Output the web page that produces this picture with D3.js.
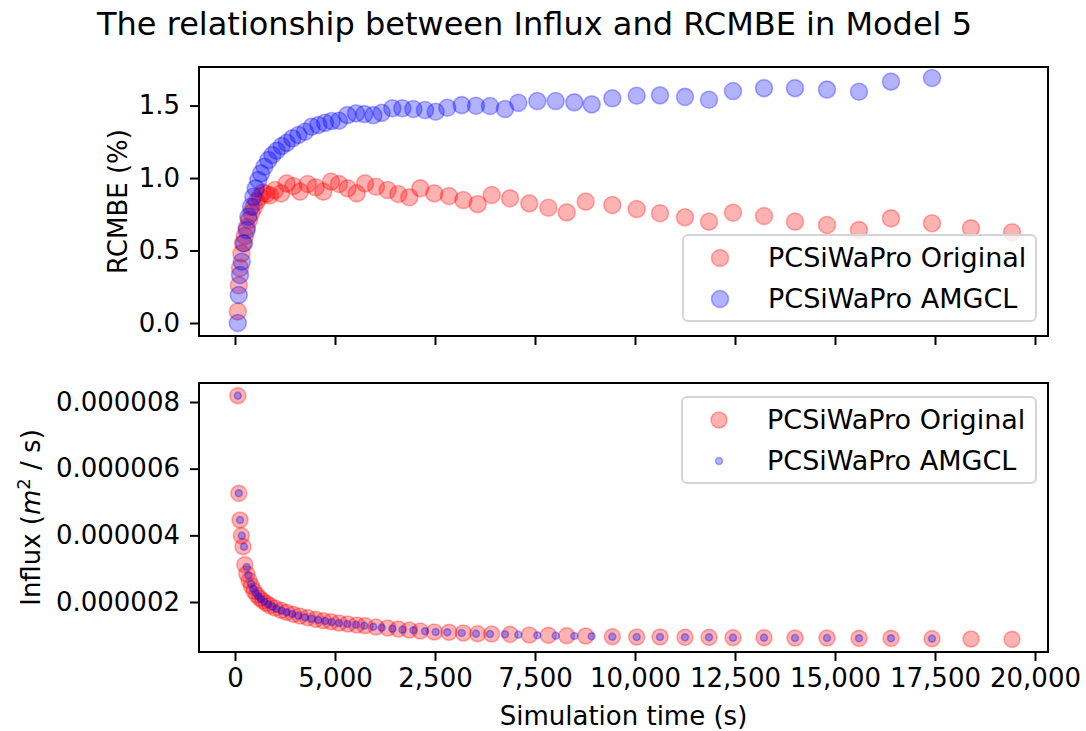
<!DOCTYPE html>
<html>
<head>
<meta charset="utf-8">
<script src="https://cdnjs.cloudflare.com/ajax/libs/d3/7.8.5/d3.min.js"></script>
<style>
  body { margin: 0; background: #fff; }
  svg { font-family: "DejaVu Sans", sans-serif; }
</style>
</head>
<body>
<div id="chart"></div>
<script>
// PCSiWaPro Original: simulation time (s), RCMBE (%), influx (x 1e-6 m2/s)
var timeOriginal = [70, 95, 125, 160, 200, 245, 295, 350, 410, 475, 545, 620, 700, 785, 875,
  1000, 1150, 1292, 1458, 1625, 1817, 2017, 2208, 2400, 2600, 2817, 3042, 3250, 3525, 3817,
  4083, 4358, 4633, 4983, 5350, 5708, 6067, 6417, 6875, 7358, 7833, 8292, 8767, 9433, 10042,
  10625, 11250, 11850, 12450, 13225, 14000, 14800, 15600, 16400, 17425, 18400, 19425];
var rcmbeOriginal = [0.08, 0.26, 0.38, 0.48, 0.55, 0.60, 0.66, 0.71, 0.76, 0.80, 0.84, 0.87, 0.90, 0.89, 0.88,
  0.917, 0.894, 0.963, 0.945, 0.906, 0.959, 0.936, 0.906, 0.975, 0.959, 0.929, 0.894, 0.963, 0.94, 0.917,
  0.89, 0.867, 0.929, 0.894, 0.876, 0.848, 0.82, 0.883, 0.86, 0.825, 0.795, 0.763, 0.837, 0.814, 0.786,
  0.757, 0.729, 0.699, 0.761, 0.738, 0.699, 0.676, 0.641, 0.722, 0.688, 0.653, 0.626];
var influxOriginal = [8.19, 5.26, 4.46, 3.99, 3.66, 3.12, 2.84, 2.65, 2.48, 2.33, 2.21, 2.11, 2.03, 1.96, 1.89,
  1.82, 1.75, 1.69, 1.63, 1.58, 1.53, 1.48, 1.44, 1.41, 1.37, 1.34, 1.31, 1.29, 1.25, 1.22,
  1.19, 1.16, 1.13, 1.10, 1.09, 1.07, 1.05, 1.04, 1.03, 1.01, 1.00, 0.99, 0.98, 0.96, 0.95,
  0.95, 0.94, 0.94, 0.93, 0.93, 0.92, 0.92, 0.91, 0.91, 0.90, 0.89, 0.88];

// PCSiWaPro AMGCL
var timeAmgcl = [70, 95, 125, 170, 225, 292, 333, 400, 458, 517, 583, 650, 733, 833, 933,
  1042, 1167, 1292, 1433, 1583, 1750, 1917, 2083, 2250, 2417, 2600, 2808, 3025, 3233, 3458,
  3667, 3933, 4183, 4458, 4750, 5017, 5308, 5667, 6025, 6375, 6750, 7083, 7558, 8017, 8483,
  8917, 9433, 10042, 10625, 11250, 11850, 12450, 13225, 14000, 14800, 15600, 16400, 17425];
var rcmbeAmgcl = [0.00, 0.193, 0.331, 0.423, 0.55, 0.641, 0.733, 0.802, 0.871, 0.929, 0.986, 1.032, 1.078, 1.124, 1.159,
  1.188, 1.221, 1.243, 1.274, 1.297, 1.319, 1.354, 1.366, 1.381, 1.393, 1.395, 1.434, 1.446, 1.441, 1.434,
  1.45, 1.481, 1.481, 1.476, 1.469, 1.457, 1.485, 1.503, 1.499, 1.497, 1.476, 1.519, 1.531, 1.531, 1.522,
  1.508, 1.55, 1.568, 1.57, 1.56, 1.54, 1.60, 1.62, 1.62, 1.61, 1.595, 1.665, 1.69];
var influxAmgcl = [8.19, 5.26, 4.46, 3.99, 3.66, 3.05, 2.80, 2.55, 2.40, 2.28, 2.17, 2.09, 2.01, 1.93, 1.86,
  1.80, 1.74, 1.69, 1.64, 1.59, 1.54, 1.50, 1.46, 1.43, 1.40, 1.37, 1.34, 1.32, 1.29, 1.26,
  1.23, 1.20, 1.17, 1.15, 1.12, 1.10, 1.09, 1.07, 1.05, 1.04, 1.03, 1.02, 1.00, 0.99, 0.98,
  0.97, 0.96, 0.95, 0.95, 0.94, 0.94, 0.93, 0.93, 0.92, 0.92, 0.91, 0.91, 0.90];

// ticks (the second x label really reads 5,000 in the source figure)
var xTicks = [0, 2500, 5000, 7500, 10000, 12500, 15000, 17500, 20000];
var xTickLabels = ["0", "5,000", "2,500", "7,500", "10,000", "12,500", "15,000", "17,500", "20,000"];
var rcmbeTicks = [0, 0.5, 1.0, 1.5];
var rcmbeTickLabels = ["0.0", "0.5", "1.0", "1.5"];
var influxTicks = [2, 4, 6, 8];
var influxTickLabels = ["0.000002", "0.000004", "0.000006", "0.000008"];

var seriesNames = ["PCSiWaPro Original", "PCSiWaPro AMGCL"];
var seriesColors = ["#ff0000", "#0000ff"];

var W = 1086, H = 731;
var left = 199, right = 1048;
var fs = 26;

var svg = d3.select("#chart").append("svg")
    .attr("width", W).attr("height", H);

var x = d3.scaleLinear().domain([-900, 20325]).range([left, right]);
var yTop = d3.scaleLinear().domain([-0.0897, 1.766]).range([336, 67]);
var yBot = d3.scaleLinear().domain([0.5, 8.57]).range([652, 383]);

function zip(t, v) {
    return t.map(function (d, i) { return { t: d, v: v[i] }; });
}

function drawAxes(y, yTicks, yLabels, showX) {
    var r = y.range();
    var g = svg.append("g");

    var xa = d3.axisBottom(x).tickValues(xTicks).tickSize(9).tickPadding(8)
        .tickFormat(function (d, i) { return showX ? xTickLabels[i] : ""; });
    g.append("g").attr("transform", "translate(0," + r[0] + ")").call(xa);

    var ya = d3.axisLeft(y).tickValues(yTicks).tickSize(9).tickPadding(10)
        .tickFormat(function (d, i) { return yLabels[i]; });
    g.append("g").attr("transform", "translate(" + left + ",0)").call(ya);

    g.selectAll(".domain").remove();
    g.selectAll(".tick line").attr("stroke", "#000").attr("stroke-width", 2);
    g.selectAll(".tick text").attr("fill", "#000").style("font-size", fs + "px")
        .style("font-family", "DejaVu Sans, sans-serif");

    g.append("rect")
        .attr("x", left).attr("y", r[1])
        .attr("width", right - left).attr("height", r[0] - r[1])
        .attr("fill", "none").attr("stroke", "#000").attr("stroke-width", 2);
}

function drawPoints(data, y, color, radius) {
    svg.append("g").selectAll("circle")
        .data(data)
        .enter()
        .append("circle")
        .attr("cx", function (d) { return x(d.t); })
        .attr("cy", function (d) { return y(d.v); })
        .attr("r", radius)
        .attr("fill", color).attr("fill-opacity", 0.3)
        .attr("stroke", color).attr("stroke-opacity", 0.3).attr("stroke-width", 1.6);
}

function drawLegend(x0, y0, w, h, radii) {
    var g = svg.append("g");
    g.append("rect")
        .attr("x", x0).attr("y", y0).attr("width", w).attr("height", h)
        .attr("rx", 5).attr("fill", "#fff").attr("fill-opacity", 0.8)
        .attr("stroke", "#d5d5d5").attr("stroke-width", 2);
    seriesNames.forEach(function (name, i) {
        var cy = y0 + 23 + i * 41;
        g.append("circle")
            .attr("cx", x0 + 37).attr("cy", cy).attr("r", radii[i])
            .attr("fill", seriesColors[i]).attr("fill-opacity", 0.3)
            .attr("stroke", seriesColors[i]).attr("stroke-opacity", 0.3).attr("stroke-width", 1.6);
        g.append("text")
            .attr("x", x0 + 85).attr("y", cy + 9)
            .style("font-size", "27px")
            .text(name);
    });
}

// top panel: RCMBE
drawAxes(yTop, rcmbeTicks, rcmbeTickLabels, false);
drawPoints(zip(timeOriginal, rcmbeOriginal), yTop, seriesColors[0], 8.5);
drawPoints(zip(timeAmgcl, rcmbeAmgcl), yTop, seriesColors[1], 8.5);
drawLegend(683, 235, 353, 86, [8.5, 8.5]);

// bottom panel: influx
drawAxes(yBot, influxTicks, influxTickLabels, true);
drawPoints(zip(timeOriginal, influxOriginal), yBot, seriesColors[0], 8);
drawPoints(zip(timeAmgcl, influxAmgcl), yBot, seriesColors[1], 3.5);
drawLegend(682, 397, 354, 86, [8, 3.5]);

// titles and labels
svg.append("text")
    .attr("x", 97).attr("y", 35)
    .style("font-size", "32px")
    .text("The relationship between Influx and RCMBE in Model 5");

svg.append("text")
    .attr("x", (left + right) / 2).attr("y", 725)
    .attr("text-anchor", "middle")
    .style("font-size", fs + "px")
    .text("Simulation time (s)");

svg.append("text")
    .attr("transform", "translate(127," + (67 + 336) / 2 + ") rotate(-90)")
    .attr("text-anchor", "middle")
    .style("font-size", fs + "px")
    .text("RCMBE (%)");

var yl = svg.append("text")
    .attr("transform", "translate(40," + (383 + 652) / 2 + ") rotate(-90)")
    .attr("text-anchor", "middle")
    .style("font-size", fs + "px");
yl.append("tspan").text("Influx (");
yl.append("tspan").style("font-style", "italic").text("m");
yl.append("tspan").attr("dy", -10).style("font-size", "18px").text("2");
yl.append("tspan").attr("dy", 10).text(" / s)");
</script>
</body>
</html>
